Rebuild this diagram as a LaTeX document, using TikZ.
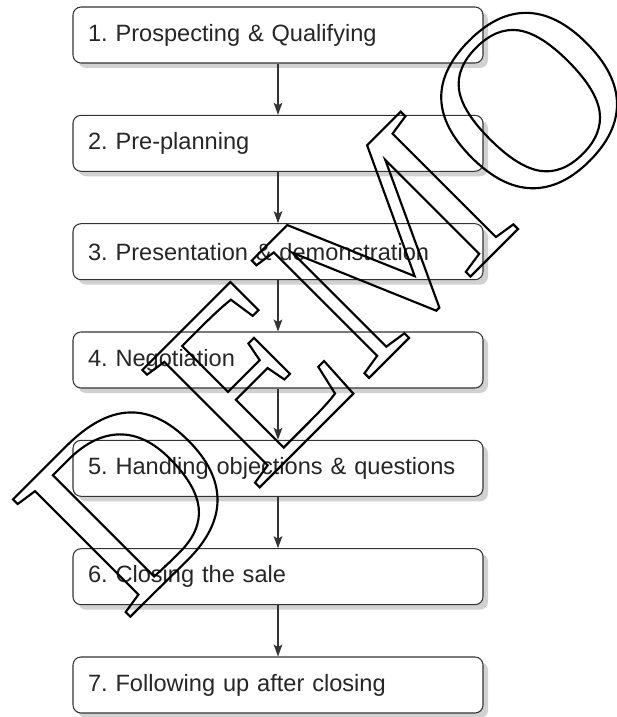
\documentclass[tikz,border=0pt]{standalone}
\usepackage{fontspec}
\setmainfont{Liberation Sans}
\newfontfamily\demofont{Liberation Serif}
\usepackage{tikz}
\usetikzlibrary{arrows.meta,shadows}
\frenchspacing
\newcommand{\demoout}[1]{\special{pdf:literal direct 1 Tr 1.6 w}#1\special{pdf:literal direct 0 Tr}}
\tikzset{
  sfbox/.style={draw=black!80, line width=0.8pt, fill=white, rounded corners=6pt,
    text=black!85, align=left, text width=285pt, inner xsep=11.25pt, inner ysep=0pt,
    minimum height=42pt, font=\fontsize{17.7}{21.2}\selectfont,
    drop shadow={shadow xshift=3.75pt, shadow yshift=-3.75pt, fill=black!18, opacity=1}},
  sfarrow/.style={draw=black!80, line width=0.8pt, -{Stealth[length=9pt, width=6.5pt, inset=2pt]}},
  sfmark/.style={rotate=45, anchor=base west, inner sep=0pt},
}

\begin{document}
\begin{tikzpicture}[x=0.75pt, y=-0.75pt]
\useasboundingbox (0,0) rectangle (617,717);
\clip (0,0) rectangle (617,717);
\node[sfbox] (st1) at (278,35.0) {1. Prospecting \& Qualifying};
\node[sfbox] (st2) at (278,143.3) {2. Pre-planning};
\node[sfbox] (st3) at (278,251.7) {3. Presentation \& demonstration};
\node[sfbox] (st4) at (278,360.0) {4. Negotiation};
\node[sfbox] (st5) at (278,468.3) {5. Handling objections \& questions};
\node[sfbox] (st6) at (278,576.7) {6. Closing the sale};
\node[sfbox] (st7) at (278,685.0) {7. Following up after closing};
\draw[sfarrow] (st1) -- (st2);
\draw[sfarrow] (st2) -- (st3);
\draw[sfarrow] (st3) -- (st4);
\draw[sfarrow] (st4) -- (st5);
\draw[sfarrow] (st5) -- (st6);
\draw[sfarrow] (st6) -- (st7);
% watermark
\node[sfmark] (demo) at (125,622) {\demofont\fontsize{190}{190}\selectfont\demoout{DEMO}};
\end{tikzpicture}
\end{document}
